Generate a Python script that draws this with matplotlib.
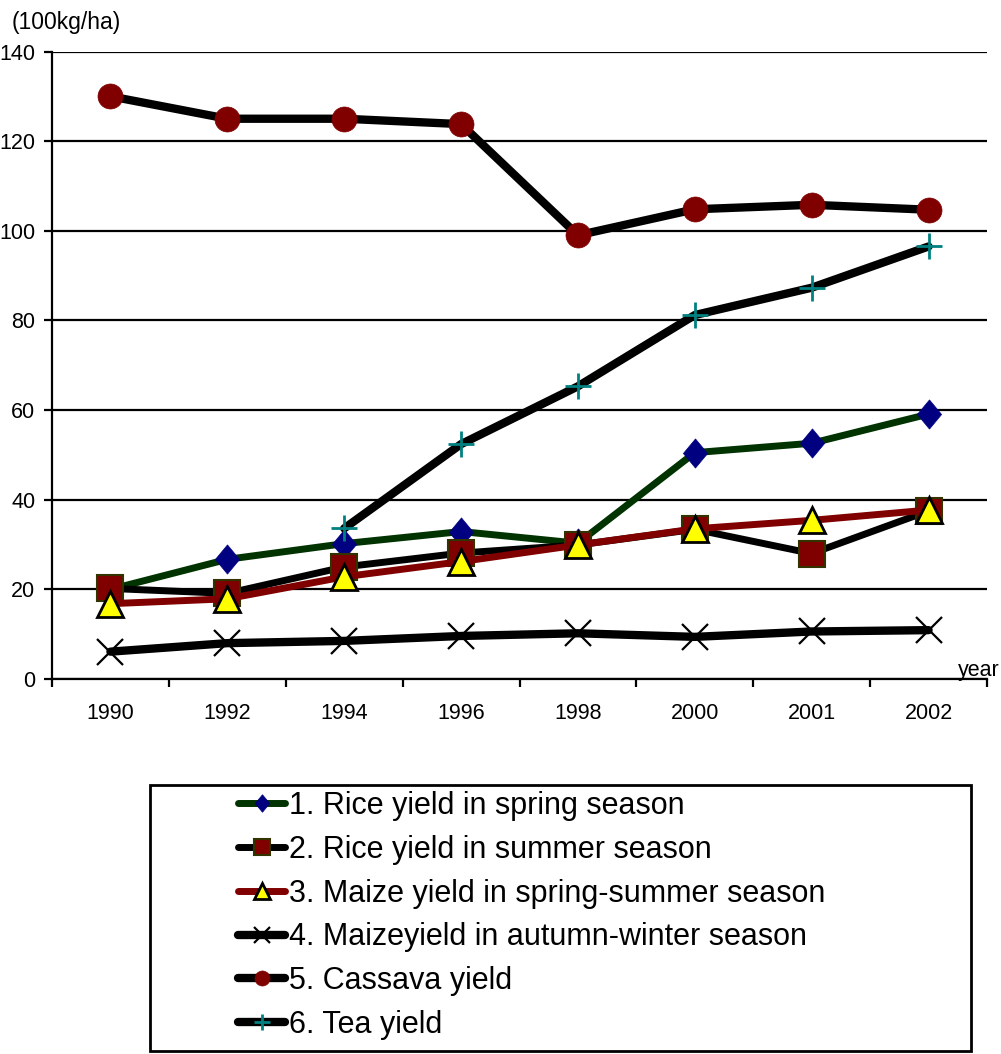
import numpy as np
import matplotlib
matplotlib.use("Agg")
import matplotlib.pyplot as plt
from matplotlib import font_manager
from matplotlib.path import Path
from matplotlib.patches import Rectangle

# ---- data (yield, 100 kg/ha) ----
years = ["1990", "1992", "1994", "1996", "1998", "2000", "2001", "2002"]
rice_spring = [20.0, 26.7, 30.2, 32.9, 30.3, 50.5, 52.6, 59.1]
rice_summer = [20.2, 19.1, 25.0, 28.1, 29.9, 33.4, 28.0, 37.5]
maize_spring_summer = [16.8, 17.9, 22.8, 26.2, 29.9, 33.5, 35.4, 37.7]
maize_autumn_winter = [6.1, 8.0, 8.5, 9.6, 10.2, 9.4, 10.6, 10.9]
cassava = [130.0, 125.0, 125.0, 123.8, 99.0, 104.8, 105.8, 104.7]
tea = [np.nan, np.nan, 33.6, 52.4, 65.3, 81.2, 87.3, 96.5]

labels = [
    "1. Rice yield in spring season",
    "2. Rice yield in summer season",
    "3. Maize yield in spring-summer season",
    "4. Maizeyield in autumn-winter season",
    "5. Cassava yield",
    "6. Tea yield",
]
y_ticks = [0, 20, 40, 60, 80, 100, 120, 140]

# ---- font: a narrow Arial-like face when available ----
available = {f.name for f in font_manager.fontManager.ttflist}
families = [f for f in ["Liberation Sans Narrow", "Liberation Sans", "DejaVu Sans"] if f in available]
plt.rcParams["font.family"] = families

fig = plt.figure(figsize=(10.01, 10.54), dpi=100)
W, H = 1001, 1054
ax = fig.add_axes([52 / W, 1 - 679 / H, (987 - 52) / W, (679 - 51.5) / H])

x = np.arange(len(years))

diamond = Path([(0, 1), (0.83, 0), (0, -1), (-0.83, 0), (0, 1)],
               [Path.MOVETO, Path.LINETO, Path.LINETO, Path.LINETO, Path.CLOSEPOLY])

series = [
    dict(y=rice_spring, color="#003300", lw=5.0, marker=diamond, ms=21,
         mfc="#000080", mec="#000080", mew=0.5),
    dict(y=rice_summer, color="black", lw=5.0, marker="s", ms=19,
         mfc="#800000", mec="#333300", mew=1.5),
    dict(y=maize_spring_summer, color="#800000", lw=5.0, marker="^", ms=19,
         mfc="#FFFF00", mec="black", mew=2.0),
    dict(y=maize_autumn_winter, color="black", lw=6.0, marker="x", ms=19,
         mfc="black", mec="black", mew=1.6),
    dict(y=cassava, color="black", lw=6.0, marker="o", ms=18,
         mfc="#800000", mec="#800000", mew=0.5),
    dict(y=tea, color="black", lw=6.0, marker="+", ms=19,
         mfc="#008080", mec="#008080", mew=2.0),
]

handles = []
for i, s in enumerate(series):
    h, = ax.plot(x, s["y"], color=s["color"], lw=s["lw"], marker=s["marker"],
                 ms=s["ms"], mfc=s["mfc"], mec=s["mec"], mew=s["mew"],
                 solid_capstyle="round", solid_joinstyle="round",
                 zorder=3 + i, clip_on=False, label=labels[i])
    handles.append(h)

# axes styling
ax.set_xlim(-0.5, len(years) - 0.5)
ax.set_ylim(0, 140)
ax.set_yticks(y_ticks)
ax.set_yticklabels([str(v) for v in y_ticks], fontsize=15.5)
ax.yaxis.grid(True, color="black", lw=1.6)
ax.set_axisbelow(True)
ax.tick_params(axis="y", direction="out", length=6, width=1.6, pad=6)

ax.set_xticks(np.arange(len(years) + 1) - 0.5)
ax.set_xticklabels([])
ax.tick_params(axis="x", which="major", direction="out", length=6, width=1.6)
ax.set_xticks(x, minor=True)
ax.set_xticklabels(years, minor=True, fontsize=15.5)
ax.tick_params(axis="x", which="minor", length=0, pad=17)

for side in ["top", "right"]:
    ax.spines[side].set_visible(False)
for side in ["left", "bottom"]:
    ax.spines[side].set_linewidth(1.6)
    ax.spines[side].set_zorder(2.5)

fig.text(12 / W, 1 - 22 / H, "(100kg/ha)", fontsize=16.5, ha="left", va="center")
fig.text(1000 / W, 1 - 676 / H, "year", fontsize=15.5, ha="right", va="baseline")

# legend box
fig.patches.append(Rectangle((150 / W, 1 - 1051 / H), (971 - 150) / W, (1051 - 785) / H,
                             transform=fig.transFigure, fill=False,
                             edgecolor="black", lw=2.0))
leg = fig.legend(handles=handles, loc="center left",
                 bbox_to_anchor=(238 / W, 1 - 915.5 / H),
                 frameon=False, fontsize=22, markerscale=0.6,
                 handlelength=1.55, handletextpad=0.12, labelspacing=0.45,
                 borderpad=0, borderaxespad=0)

fig.savefig("out.png", dpi=100)
